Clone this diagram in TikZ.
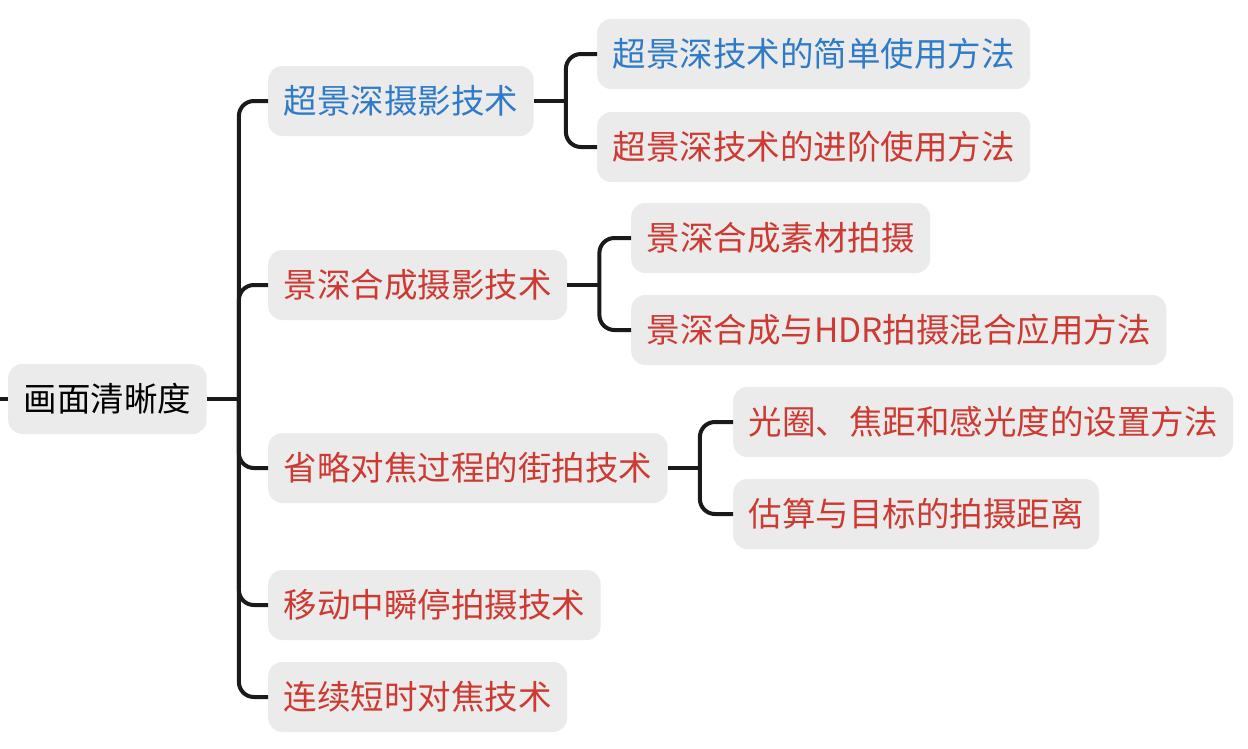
\documentclass[tikz,border=0pt]{standalone}
\usepackage{fontspec}
\usepackage{xcolor}
\usepackage{tikz}
\usetikzlibrary{positioning}

\newfontfamily\cjk{Noto Sans CJK SC}

\definecolor{boxgray}{HTML}{EBEBEB}
\definecolor{topicblue}{HTML}{2F7BC7}
\definecolor{topicred}{HTML}{CC3A32}
\definecolor{linkblack}{HTML}{1A1A1A}

\begin{document}
\begin{tikzpicture}[x=1pt, y=-1pt,
    topic/.style={rectangle, fill=boxgray, rounded corners=14pt, anchor=west,
        minimum height=70pt, inner xsep=15.5pt, inner ysep=0pt,
        font=\cjk\fontsize{33.5pt}{40pt}\selectfont, text height=29.5pt, text depth=4pt},
    link/.style={draw=linkblack, line width=4pt, rounded corners=15pt}]
    \useasboundingbox (0,0) rectangle (1248,748);

    % Root
    \node[topic, text=black] (root) at (8,399) {画面清晰度};
    \coordinate (inlet) at (0,399);
    \draw[link] (inlet) -- (root.west);

    % First level
    \node[topic, text=topicblue] (deep) at (268,101) {超景深摄影技术};
    \node[topic, text=topicred] (stack) at (268,285) {景深合成摄影技术};
    \node[topic, text=topicred] (street) at (268,468) {省略对焦过程的街拍技术};
    \node[topic, text=topicred] (pause) at (268,605) {移动中瞬停拍摄技术};
    \node[topic, text=topicred] (burst) at (268,697) {连续短时对焦技术};

    \draw[link] (root.east) -- ++(32,0) coordinate (rootfork);
    \foreach \child in {deep, stack, street, pause, burst}
        \draw[link] (rootfork) |- (\child.west);

    % Deep focus
    \node[topic, text=topicblue] (deepbasic) at (597,54) {超景深技术的简单使用方法};
    \node[topic, text=topicred] (deepadv) at (597,147) {超景深技术的进阶使用方法};
    \draw[link] (deep.east) -- ++(32,0) coordinate (deepfork);
    \draw[link] (deepfork) |- (deepbasic.west);
    \draw[link] (deepfork) |- (deepadv.west);

    % Focus stacking
    \node[topic, text=topicred] (stackshoot) at (631,238) {景深合成素材拍摄};
    \node[topic, text=topicred] (stackhdr) at (631,330) {景深合成与HDR拍摄混合应用方法};
    \draw[link] (stack.east) -- ++(32,0) coordinate (stackfork);
    \draw[link] (stackfork) |- (stackshoot.west);
    \draw[link] (stackfork) |- (stackhdr.west);

    % Street
    \node[topic, text=topicred] (settings) at (733,422) {光圈、焦距和感光度的设置方法};
    \node[topic, text=topicred] (distance) at (733,514) {估算与目标的拍摄距离};
    \draw[link] (street.east) -- ++(32,0) coordinate (streetfork);
    \draw[link] (streetfork) |- (settings.west);
    \draw[link] (streetfork) |- (distance.west);
\end{tikzpicture}
\end{document}
